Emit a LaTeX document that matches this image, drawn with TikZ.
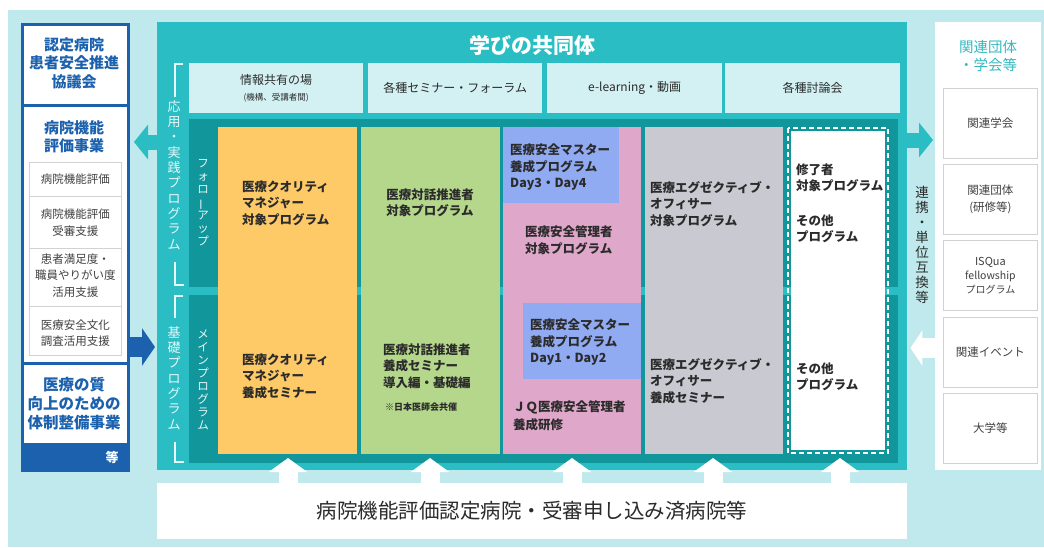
\documentclass[tikz,border=0pt]{standalone}
\usepackage{fontspec}
\setmainfont{Noto Sans CJK JP}
\usetikzlibrary{arrows.meta}
\definecolor{bgc}{HTML}{BFE9EC}
\definecolor{tealA}{HTML}{2ABEC4}
\definecolor{tealB}{HTML}{11969B}
\definecolor{lbox}{HTML}{D3F1F3}
\definecolor{ycol}{HTML}{FDCA67}
\definecolor{gcol}{HTML}{B4D78B}
\definecolor{pcol}{HTML}{DFA7C9}
\definecolor{bcol}{HTML}{91ABF3}
\definecolor{grcol}{HTML}{C9CAD1}
\definecolor{navy}{HTML}{1C61AD}
\definecolor{rtitle}{HTML}{36B8BF}
\definecolor{txt}{HTML}{2B2B2B}
\definecolor{gline}{HTML}{D2D2D2}
\definecolor{vlt}{HTML}{E6F8F9}
\newcommand{\fsz}[2]{\fontsize{#1}{#2}\selectfont}
\newcommand{\vbar}{\rotatebox[origin=c]{90}{ー}}
\begin{document}
\begin{tikzpicture}[x=1pt,y=-1pt,
  cell/.style={font=\fsz{12.5}{16.5}\bfseries, text=txt, align=left, inner sep=0pt},
  celltxtc/.style={cell, align=center},
  topbox/.style={fill=lbox, anchor=north west, inner sep=0pt, minimum height=50pt},
  toptext/.style={font=\fsz{12}{14}, text=txt, inner sep=0pt},
  subbox/.style={draw=gline, line width=0.8pt, fill=white, anchor=north west, inner sep=0pt, minimum width=92pt},
  subtext/.style={font=\fsz{11.5}{16.5}, text=txt!90, align=center, inner sep=0pt},
  navytext/.style={font=\fsz{15}{18.5}\bfseries, text=navy, align=center, inner sep=0pt},
  rbox/.style={draw=gline, line width=0.8pt, fill=white, anchor=north west, inner sep=0pt, minimum width=94pt, minimum height=70pt, font=\fsz{11.5}{16.5}, text=txt!90, align=center},
  vlabel/.style={font=\fsz{13}{15.3}, text=vlt, align=center, inner sep=0pt},
  vlabelsm/.style={font=\fsz{11.5}{13}, text=vlt, align=center, inner sep=0pt},
  brk/.style={vlt, line width=1.8pt},
  tealarr/.style={tealA, line width=15pt, -{Triangle[width=34pt,length=14pt]}},
  bluearr/.style={navy, line width=20pt, -{Triangle[width=37pt,length=13pt]}},
  whitearr/.style={white, line width=20pt, -{Triangle[width=35pt,length=12pt]}},
  uparr/.style={white, line width=19pt, -{Triangle[width=38pt,length=14pt]}},
  framebox/.style={fill=tealB, anchor=north west, inner sep=0pt, minimum width=709pt, minimum height=168pt}
]
\useasboundingbox (0,0) rectangle (1044,547);
\fill[white] (0,0) rectangle (1044,547);
\fill[bgc] (8,10) rectangle (1044,547);

% main containers
\node[fill=tealA, anchor=north west, inner sep=0pt, minimum width=750pt, minimum height=448pt] (main) at (157,22) {};
\node[draw=navy, line width=3pt, fill=white, anchor=north west, inner sep=0pt, minimum width=106pt, minimum height=446pt] (lp) at (21,23) {};
\node[fill=white, anchor=north west, inner sep=0pt, minimum width=106pt, minimum height=448pt] (rp) at (935,22) {};
\node[fill=white, anchor=north west, inner sep=0pt, minimum width=750pt, minimum height=56pt] (bot) at (157,483) {};
\node[font=\fsz{20.5}{24}, text=txt, inner sep=0pt] (bottxt) at (532,511) {病院機能評価認定病院・受審申し込み済病院等};

% left panel
\draw[navy, line width=3pt] (21,105) -- (127,105);
\draw[navy, line width=3pt] (21,363) -- (127,363);
\fill[navy] (21,443) rectangle (127,469);
\node[navytext] (l1) at (74,63) {認定病院\\患者安全推進\\協議会};
\node[navytext] (l2) at (74,137) {病院機能\\評価事業};
\node[subbox, minimum height=34pt] (s1) at (29,162) {};
\node[subbox, minimum height=52pt] (s2) at (29,196) {};
\node[subbox, minimum height=58pt] (s3) at (29,248) {};
\node[subbox, minimum height=49pt] (s4) at (29,306) {};
\node[subtext] at (s1.center) {病院機能評価};
\node[subtext] at (s2.center) {病院機能評価\\受審支援};
\node[subtext] at ([yshift=2pt]s3.center) {患者満足度・\\職員やりがい度\\活用支援};
\node[subtext] at ([yshift=-2pt]s4.center) {医療安全文化\\調査活用支援};
\node[navytext, font=\fsz{15.5}{19}\bfseries] (l3) at (74,404) {医療の質\\向上のための\\体制整備事業};
\node[font=\fsz{13}{15}\bfseries, text=white, inner sep=0pt] (etc) at (112,457) {等};

% right panel
\node[font=\fsz{14.5}{18}, text=rtitle, align=center, inner sep=0pt] (rt) at (988,56) {関連団体\\・学会等};
\node[rbox] (r1) at (943,88) {関連学会};
\node[rbox] (r2) at (943,164) {関連団体\\(研修等)};
\node[rbox, font=\fsz{11}{14}] (r3) at (943,240) {ISQua\\{\fsz{10.5}{14}fellowship}\\{\fsz{10}{14}プログラム}};
\node[rbox] (r4) at (943,317) {関連イベント};
\node[rbox] (r5) at (943,393) {大学等};
\node[font=\fsz{13.5}{15}, text=txt, align=center, inner sep=0pt] (renk) at (922,245) {連\\携\\・\\単\\位\\互\\換\\等};

% title and top labels
\node[font=\fsz{21}{24}\bfseries, text=white, inner sep=0pt] (title) at (532,45) {学びの共同体};
\node[topbox, minimum width=174pt] (t1) at (189,63) {};
\node[topbox, minimum width=174pt] (t2) at (368,63) {};
\node[topbox, minimum width=175pt] (t3) at (547,63) {};
\node[topbox, minimum width=175pt] (t4) at (725,63) {};
\node[toptext] at ([yshift=8pt]t1.center) {情報共有の場};
\node[toptext, font=\fsz{8.5}{10}] at ([yshift=-10pt]t1.center) {(機構、受講者間)};
\node[toptext] at (t2.center) {各種セミナー・フォーラム};
\node[toptext] at (t3.center) {e-learning・動画};
\node[toptext] at (t4.center) {各種討論会};

% left vertical labels and brackets
\node[vlabel] (va) at (174,175) {応\\用\\・\\実\\践\\プ\\ロ\\グ\\ラ\\ム};
\node[vlabel] (vb) at (174,378) {基\\礎\\プ\\ロ\\グ\\ラ\\ム};
\draw[brk] (183,64) -- (175,64) -- (175,97);
\draw[brk] (175,262) -- (175,285) -- (184,285);
\draw[brk] (183,296) -- (175,296) -- (175,318);
\draw[brk] (175,442) -- (175,462) -- (184,462);

% frames
\node[framebox] (f1) at (189,119) {};
\node[framebox] (f2) at (189,295) {};
\node[vlabelsm] (vf) at (203,203) {フ\\ォ\\ロ\\\vbar\\ア\\ッ\\プ};
\node[vlabelsm] (vm) at (203,380) {メ\\イ\\ン\\プ\\ロ\\グ\\ラ\\ム};

% columns
\fill[ycol] (218,127) rectangle (357,454);
\fill[gcol] (361,127) rectangle (500,454);
\fill[pcol] (503,127) rectangle (641,454);
\fill[grcol] (645,127) rectangle (783,454);
\draw[white, line width=1.6pt, dash pattern=on 5pt off 3pt] (788,128) rectangle (888,453);
\fill[white] (791,131) rectangle (885,450);
\fill[bcol] (503,127) rectangle (619,203);
\fill[bcol] (523,303) rectangle (641,379);

% row 1 texts
\node[cell, anchor=west] (c11) at (242,203) {医療クオリティ\\マネジャー\\対象プログラム};
\node[celltxtc] (c12) at (430,203) {医療対話推進者\\対象プログラム};
\node[cell, anchor=west] (c13) at (510,167) {医療安全マスター\\養成プログラム\\Day3・Day4};
\node[cell, anchor=west] (c14) at (525,240) {医療安全管理者\\対象プログラム};
\node[cell, anchor=west] (c15) at (650,204) {医療エグゼクティブ・\\オフィサー\\対象プログラム};
\node[cell, anchor=west] (c16a) at (796,178) {修了者\\対象プログラム};
\node[cell, anchor=west] (c16b) at (796,229) {その他\\プログラム};

% row 2 texts
\node[cell, anchor=west] (c21) at (242,376) {医療クオリティ\\マネジャー\\養成セミナー};
\node[cell, anchor=west] (c22) at (383,366) {医療対話推進者\\養成セミナー\\導入編・基礎編};
\node[cell, anchor=west, font=\fsz{9}{11}\bfseries] (c22n) at (385,407) {※日本医師会共催};
\node[cell, anchor=west] (c23) at (530,342) {医療安全マスター\\養成プログラム\\Day1・Day2};
\node[cell, anchor=west, font=\fsz{12.5}{18}\bfseries] (c24) at (513,416) {ＪＱ医療安全管理者\\養成研修};
\node[cell, anchor=west] (c25) at (650,381) {医療エグゼクティブ・\\オフィサー\\養成セミナー};
\node[cell, anchor=west] (c26) at (796,377) {その他\\プログラム};

% connectors
\coordinate (ya) at (0,142);
\coordinate (yb) at (0,347);
\coordinate (yc) at (0,140);
\coordinate (yd) at (0,348);
\draw[tealarr, shorten >=4pt] (main.west |- ya) -- (lp.east |- ya);
\draw[bluearr, shorten >=2pt] (lp.east |- yb) -- (main.west |- yb);
\draw[tealarr, shorten >=2pt] (main.east |- yc) -- (rp.west |- yc);
\draw[whitearr, shorten >=3pt] (rp.west |- yd) -- (main.east |- yd);
\foreach \i/\x in {1/288,2/430,3/572,4/713,5/840}{
  \coordinate (u\i) at (\x,458);
  \draw[uparr] (bot.north -| u\i) -- (u\i);
}
\end{tikzpicture}
\end{document}
